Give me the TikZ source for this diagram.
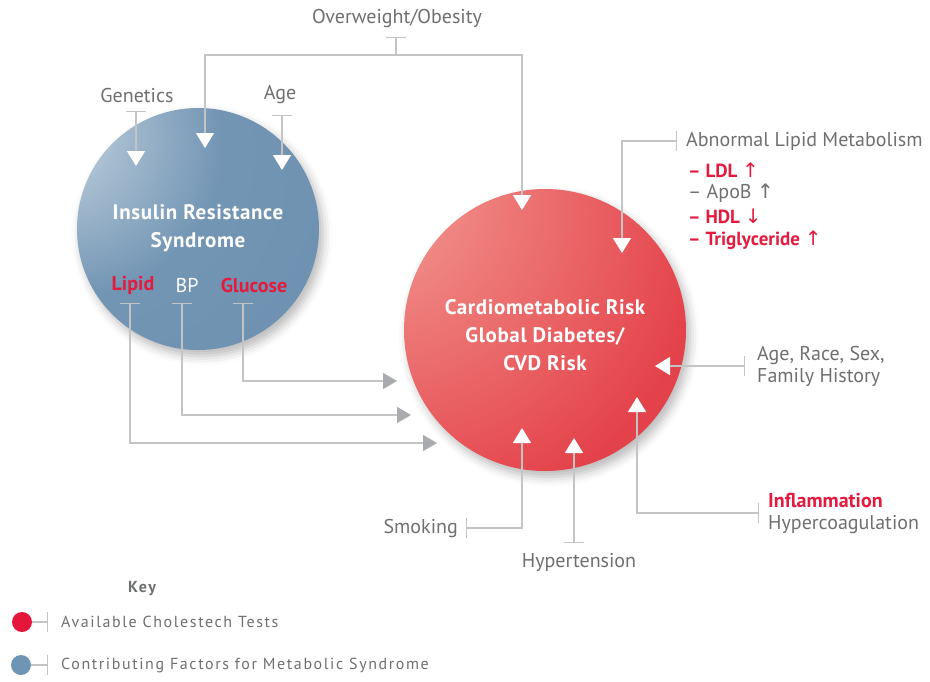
\documentclass[tikz,border=0pt]{standalone}
\usepackage{fontspec}
\setmainfont{PT Sans}
\newfontfamily\symfont{DejaVu Sans}
\newfontfamily\keyfont[LetterSpace=10]{PT Sans}
\newfontfamily\circfont[LetterSpace=3]{PT Sans}
\usetikzlibrary{arrows.meta,shadows.blur}

\definecolor{txtgrey}{HTML}{6E6F71}
\definecolor{redtxt}{HTML}{E31B3F}
\definecolor{linegrey}{HTML}{C3C4C6}
\definecolor{arrgrey}{HTML}{A9ABAE}
\definecolor{bluebase}{HTML}{6C90B0}
\definecolor{bluehi}{HTML}{DCE6EE}
\definecolor{redbase}{HTML}{E4424A}
\definecolor{redhi}{HTML}{FAC8B8}
\definecolor{keyred}{HTML}{E4163A}
\definecolor{keyblue}{HTML}{6F95B5}

\pgfdeclareradialshading{blueball}{\pgfpoint{-33bp}{22bp}}{color(0bp)=(bluehi); color(4bp)=(bluehi!75!bluebase); color(30bp)=(bluebase!95!white); color(60bp)=(bluebase); color(130bp)=(bluebase!94!black)}
\pgfdeclareradialshading{redball}{\pgfpoint{-36bp}{28bp}}{color(0bp)=(redhi); color(6bp)=(redhi!65!redbase); color(50bp)=(redbase); color(130bp)=(redbase!96!black)}

\begin{document}
\begin{tikzpicture}[x=1pt,y=-1pt,
  ballnode/.style={circle, inner sep=0pt, draw=none,
    blur shadow={shadow xshift=4pt, shadow yshift=-6pt, shadow blur radius=9pt, shadow opacity=28}},
  circtxt/.style={text=white, font=\circfont\bfseries\fontsize{21}{28}\selectfont, align=center, inner sep=0pt},
  lbl/.style={text=txtgrey, font=\fontsize{20}{22}\selectfont, inner sep=0pt},
  redlbl/.style={text=redtxt, font=\bfseries\fontsize{19}{22}\selectfont, inner sep=0pt},
  conn/.style={draw=linegrey, line width=1.4pt},
  tee/.tip={Bar[width=20pt,line width=1.4pt]},
  wtip/.tip={Triangle[width=18pt,length=15pt,fill=white,color=white]},
  gtip/.tip={Triangle[width=16pt,length=14pt,fill=arrgrey,color=arrgrey]},
  keydot/.style={circle, inner sep=0pt, minimum size=20pt, draw=none},
  keytxt/.style={text=txtgrey, font=\keyfont\fontsize{16}{18}\selectfont, inner sep=0pt, anchor=west}
]
\useasboundingbox (0,0) rectangle (930,681);

% circles
\node[ballnode, minimum size=242pt, shading=blueball] (irs) at (198,229) {};
\node[ballnode, minimum size=282pt, shading=redball] (cr) at (545,330) {};

% circle texts
\node[circtxt] (irst) at (198,228) {Insulin Resistance\\Syndrome};
\node[circtxt] (crt) at (545,335) {Cardiometabolic Risk\\Global Diabetes/\\CVD Risk};
\node[redlbl, font=\bfseries\fontsize{20}{22}\selectfont] (lipid) at (133,285) {Lipid};
\node[lbl, text=white] (bp) at (187,285) {BP};
\node[redlbl, font=\bfseries\fontsize{20}{22}\selectfont] (gluc) at (254,285) {Glucose};

% labels
\node[lbl] (ow) at (397,18) {Overweight/Obesity};
\node[lbl] (gen) at (137,95) {Genetics};
\node[lbl] (age) at (280,95) {Age};
\node[lbl, anchor=west] (alm) at (686,141) {Abnormal Lipid Metabolism};
\node[redlbl, anchor=west] (ldl) at (688,170) {– LDL {\mdseries\symfont\fontsize{20}{20}\selectfont ↑}};
\node[lbl, anchor=west] (apob) at (688,193) {– ApoB {\symfont\fontsize{20}{20}\selectfont ↑}};
\node[redlbl, anchor=west] (hdl) at (688,216) {– HDL {\mdseries\symfont\fontsize{20}{20}\selectfont ↓}};
\node[redlbl, anchor=west] (trig) at (688,240) {– Triglyceride {\mdseries\symfont\fontsize{20}{20}\selectfont ↑}};
\node[lbl, anchor=west, align=left, font=\fontsize{20}{22}\selectfont] (arsf) at (757,366) {Age, Race, Sex,\\Family History};
\node[redlbl, anchor=west, font=\bfseries\fontsize{20}{22}\selectfont] (infl) at (768,501) {Inflammation};
\node[lbl, anchor=west] (hyco) at (768,525) {Hypercoagulation};
\node[lbl, anchor=east] (smok) at (458,528) {Smoking};
\node[lbl] (hyp) at (579,562) {Hypertension};

% connector end points
\coordinate (owT) at (396,37);
\coordinate (owJ) at (396,55);
\coordinate (owA1) at (205,148);
\coordinate (owA2) at (522,210);
\coordinate (genT) at (136,111);
\coordinate (genA) at (136,166);
\coordinate (ageT) at (282,115);
\coordinate (ageA) at (282,170);
\coordinate (lipT) at (130,303);
\coordinate (lipA) at (437,443);
\coordinate (bpT) at (182,303);
\coordinate (bpA) at (411,415);
\coordinate (glT) at (243,303);
\coordinate (glA) at (397,381);
\coordinate (almT) at (677,141);
\coordinate (almA) at (622,253);
\coordinate (arsT) at (745,366);
\coordinate (arsA) at (655,366);
\coordinate (infT) at (759,513);
\coordinate (infA) at (637,397);
\coordinate (smT) at (466,528);
\coordinate (smA) at (522,428);
\coordinate (hyT) at (574,543);
\coordinate (hyA) at (574,438);

% connectors
\draw[conn, {tee}-] (owT) -- (owJ);
\draw[conn, -{wtip}] (owJ) -| (owA1);
\draw[conn, -{wtip}] (owJ) -| (owA2);
\draw[conn, {tee}-{wtip}] (genT) -- (genA);
\draw[conn, {tee}-{wtip}] (ageT) -- (ageA);
\draw[conn, {tee}-{gtip}] (lipT) |- (lipA);
\draw[conn, {tee}-{gtip}] (bpT) |- (bpA);
\draw[conn, {tee}-{gtip}] (glT) |- (glA);
\draw[conn, {tee}-{wtip}] (almT) -| (almA);
\draw[conn, {tee}-{wtip}] (arsT) -- (arsA);
\draw[conn, {tee}-{wtip}] (infT) -| (infA);
\draw[conn, {tee}-{wtip}] (smT) -| (smA);
\draw[conn, {tee}-{wtip}] (hyT) -- (hyA);

% key
\node[text=txtgrey, font=\keyfont\bfseries\fontsize{16}{18}\selectfont, inner sep=0pt] (key) at (142,589) {Key};
\node[keydot, fill=keyred] (kr) at (22,622) {};
\node[keydot, fill=keyblue] (kb) at (21,665) {};
\coordinate (krT) at (48,622);
\coordinate (kbT) at (48,665);
\draw[conn, -{tee}] (kr) -- (krT);
\draw[conn, -{tee}] (kb) -- (kbT);
\node[keytxt] (krt) at (61,622) {Available Cholestech Tests};
\node[keytxt] (kbt) at (61,665) {Contributing Factors for Metabolic Syndrome};
\end{tikzpicture}
\end{document}
